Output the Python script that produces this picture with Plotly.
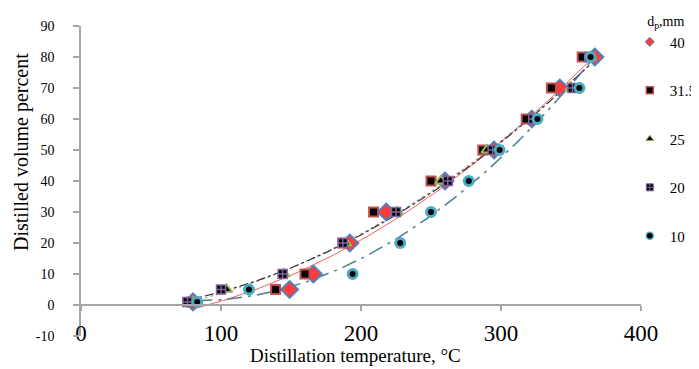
import numpy as np
import plotly.graph_objects as go

# Distilled volume percent (shared by all series)
volume = [1, 5, 10, 20, 30, 40, 50, 60, 70, 80]

# Distillation temperature (°C) per particle size d_p (mm)
temp_40 = [80, 149, 166, 192, 218, 260, 295, 322, 342, 367]
temp_31_5 = [79, 139, 160, 187, 209, 250, 287, 318, 336, 358]
temp_25 = [80, 104, 145, 189, 226, 257, 290, 324, 350, 364]
temp_20 = [76, 100, 144, 187, 225, 262, 294, 323, 351, 363]
temp_10 = [83, 120, 194, 228, 250, 277, 299, 326, 356, 364]

legend_labels = ["40", "31.5", "25", "20", "10"]

x_ticks = [0, 100, 200, 300, 400]
y_ticks = [-10, 0, 10, 20, 30, 40, 50, 60, 70, 80, 90]

SERIF = "Liberation Serif, Times New Roman, serif"
AXIS_GRAY = "#A6A6A6"

styles = {
    "40": dict(symbol="diamond", color="#FF3B3B", line=dict(color="#4F81BD", width=2), size=13),
    "31.5": dict(symbol="square", color="#000000", line=dict(color="#C0504D", width=2), size=9),
    "25": dict(symbol="triangle-up", color="#000000", line=dict(color="#9BBB59", width=2), size=10),
    "20": dict(symbol="square-cross", color="#000000", line=dict(color="#8064A2", width=1.5), size=9),
    "10": dict(symbol="circle", color="#000000", line=dict(color="#4BACC6", width=3), size=9),
}
legend_styles = {
    "40": dict(symbol="diamond", color="#FF3B3B", line=dict(color="#4F81BD", width=1), size=7),
    "31.5": dict(symbol="square", color="#000000", line=dict(color="#C0504D", width=1.5), size=7),
    "25": dict(symbol="triangle-up", color="#000000", line=dict(color="#9BBB59", width=1), size=7),
    "20": dict(symbol="square-cross", color="#000000", line=dict(color="#8064A2", width=1), size=7),
    "10": dict(symbol="circle", color="#000000", line=dict(color="#4BACC6", width=1.5), size=7),
}

series = {
    "40": temp_40,
    "31.5": temp_31_5,
    "25": temp_25,
    "20": temp_20,
    "10": temp_10,
}

fig = go.Figure()

# polynomial (order 2) trendlines, as in the original spreadsheet chart
trend_styles = [
    ("40", dict(color="#FF5A5A", width=1, dash="solid")),
    ("25", dict(color="#B0B0B0", width=1.2, dash="dot")),
    ("20", dict(color="#333333", width=1.2, dash="dashdot")),
    ("10", dict(color="#4A7F93", width=1.5, dash="longdashdot")),
]
for key, lst in trend_styles:
    t = np.array(series[key], dtype=float)
    v = np.array(volume, dtype=float)
    coef = np.polyfit(t, v, 2)
    tt = np.linspace(t.min(), t.max(), 80)
    fig.add_trace(go.Scatter(x=tt, y=np.polyval(coef, tt), mode="lines",
                             line=lst, showlegend=False, hoverinfo="skip"))

for key in legend_labels:
    fig.add_trace(go.Scatter(x=series[key], y=volume, mode="markers",
                             marker=styles[key], showlegend=False, name=key))

# compact legend entries
for key in legend_labels:
    fig.add_trace(go.Scatter(x=[None], y=[None], mode="markers",
                             marker=legend_styles[key], name=key,
                             legendgroup=key, showlegend=True))

# the page body adds an 8px offset, so the figure is 8px smaller on each axis
fig.update_layout(
    width=691, height=361,
    margin=dict(l=73, r=58, t=18, b=33, autoexpand=False),
    paper_bgcolor="white", plot_bgcolor="white",
    font=dict(family=SERIF, color="black"),
    showlegend=True,
    legend=dict(
        x=0.98, xanchor="left", y=1.06, yanchor="top",
        title=dict(text="d<sub>p</sub>,mm", font=dict(size=14, family=SERIF),
                   side="top center"),
        font=dict(size=15, family=SERIF),
        tracegroupgap=26,
        itemwidth=30,
        maxheight=400,
        bgcolor="rgba(0,0,0,0)",
    ),
    xaxis=dict(
        range=[0, 400], tickvals=x_ticks, ticktext=[str(v) for v in x_ticks],
        showgrid=False, zeroline=False,
        showline=True, linecolor=AXIS_GRAY, linewidth=1.5,
        ticks="outside", ticklen=5, tickcolor=AXIS_GRAY, tickwidth=1.5,
        anchor="free", position=0.1,
        ticklabelstandoff=3,
        tickfont=dict(size=23, family=SERIF),
    ),
    yaxis=dict(
        range=[-10, 90], tickvals=y_ticks, ticktext=[str(v) for v in y_ticks],
        showgrid=False, zeroline=False,
        showline=True, linecolor=AXIS_GRAY, linewidth=1.5,
        ticks="outside", ticklen=6, tickcolor=AXIS_GRAY, tickwidth=1.5,
        ticklabelstandoff=16,
        tickfont=dict(size=14, family=SERIF),
    ),
    annotations=[
        dict(text="Distillation temperature, °C", xref="paper", yref="paper",
             x=(355 - 81) / 560, y=(336 - 355) / 310, xanchor="center", yanchor="middle",
             showarrow=False, font=dict(size=19, family=SERIF)),
        dict(text="Distilled volume percent", xref="paper", yref="paper",
             x=(21 - 81) / 560, y=(336 - 152) / 310, xanchor="center", yanchor="middle",
             textangle=-90, showarrow=False, font=dict(size=20, family=SERIF)),
    ],
)

fig.write_html("out.html")
